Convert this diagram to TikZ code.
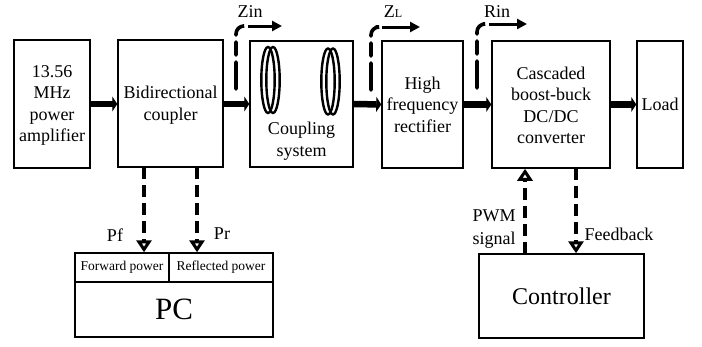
\documentclass[tikz,border=0pt]{standalone}
\usepackage{fontspec}
\setmainfont{Liberation Serif}
\usepackage{tikz}
\usetikzlibrary{arrows.meta}
\tikzset{
blockbox/.style={draw, line width=1.5pt, inner sep=0pt, align=center, font=\fontsize{18}{21.5}\selectfont},
blocktext/.style={inner sep=0pt, align=center, font=\fontsize{18}{21.5}\selectfont},
tagtext/.style={inner sep=0pt, align=center, font=\fontsize{18}{23}\selectfont},
powerline/.style={line width=6.5pt, -{Triangle[width=15pt,length=5pt]}},
senseline/.style={line width=3.5pt, dash pattern=on 12pt off 6pt, -{Triangle[open,width=15pt,length=12pt,line width=3pt]}},
hookline/.style={line width=3.6pt, line cap=round, dash pattern=on 27pt off 7pt on 13pt off 7pt on 30pt off 30pt, rounded corners=8pt},
portline/.style={line width=3pt, -{Triangle[width=10pt,length=10pt]}},
coilring/.style={line width=2.4pt},
}

\begin{document}
\begin{tikzpicture}[x=1pt, y=-1pt]
\useasboundingbox (0,0) rectangle (702,346);

\node[blockbox, minimum width=76pt, minimum height=128pt] (amp) at (52,104) {};
\node[blocktext] (amptext) at (52,105.5) {13.56\\MHz\\power\\amplifier};
\node[blockbox, minimum width=105pt, minimum height=127pt] (coupler) at (170.5,103.5) {};
\node[blocktext] (couplertext) at (170.5,105) {Bidirectional\\coupler};
\node[blockbox, minimum width=103pt, minimum height=126pt] (coupling) at (301.5,104) {};
\node[blocktext] (couplingtext) at (301.5,141) {Coupling\\system};
\node[blockbox, minimum width=81pt, minimum height=127pt] (rectifier) at (422.5,104.5) {High\\frequency\\rectifier};
\node[blockbox, minimum width=118pt, minimum height=127pt] (converter) at (551,104.5) {};
\node[blocktext] (convertertext) at (551,105.5) {Cascaded\\boost-buck\\DC/DC\\converter};
\node[blockbox, minimum width=46pt, minimum height=127pt] (load) at (660,104.5) {Load};
\node[blockbox, minimum width=165pt, minimum height=84pt, font=\fontsize{24}{28}\selectfont] (controller) at (561.5,296) {Controller};

\node[blockbox, minimum width=94pt, minimum height=29pt, font=\fontsize{13.5}{15}\selectfont] (forward) at (122,267.5) {Forward power};
\node[blockbox, minimum width=104pt, minimum height=29pt, font=\fontsize{13.5}{15}\selectfont] (reflected) at (221,267.5) {Reflected power};
\node[blockbox, minimum width=198pt, minimum height=55pt, font=\fontsize{31}{34}\selectfont] (pc) at (174,309.5) {PC};

\draw[coilring] (268,80) ellipse (6.7pt and 33pt);
\draw[coilring] (273,80) ellipse (6.7pt and 33pt);
\draw[coilring] (328,81.5) ellipse (6.7pt and 33pt);
\draw[coilring] (333,81.5) ellipse (6.7pt and 33pt);

\draw[powerline] (amp.east) -- (coupler.west |- amp.east);
\draw[powerline] (coupler.east |- coupling.west) -- (coupling.west);
\draw[powerline] (coupling.east) -- (rectifier.west);
\draw[powerline] (rectifier.east) -- (converter.west);
\draw[powerline] (converter.east) -- (load.west);

\coordinate (pfstart) at (144,167);
\coordinate (prstart) at (197,167);
\draw[senseline] (pfstart) -- (pfstart |- forward.north);
\draw[senseline] (prstart) -- (prstart |- reflected.north);
\coordinate (pwmstart) at (525,254);
\coordinate (fbstart) at (576,168);
\draw[senseline] (pwmstart) -- (pwmstart |- converter.south);
\draw[senseline] (fbstart) -- (fbstart |- controller.north);

\coordinate (zinfoot) at (236,89);
\coordinate (zinhead) at (243,26);
\coordinate (zlfoot) at (371,90);
\coordinate (zlhead) at (376,27);
\coordinate (rinfoot) at (477,88);
\coordinate (rinhead) at (483,24);
\draw[hookline] (zinfoot) |- (zinhead);
\draw[hookline] (zlfoot) |- (zlhead);
\draw[hookline] (rinfoot) |- (rinhead);
\draw[portline] (zinhead) ++(5,0) -- ++(34,0);
\draw[portline] (zlhead) ++(6,0) -- ++(38,0);
\draw[portline] (rinhead) ++(6,0) -- ++(38,0);

\node[tagtext] (zinlabel) at (250,12) {Zin};
\node[tagtext] (zllabel) at (393,12) {Z{\fontsize{12}{12}\selectfont L}};
\node[tagtext] (rinlabel) at (497,12) {Rin};
\node[tagtext] (pflabel) at (115,235) {Pf};
\node[tagtext] (prlabel) at (222,234) {Pr};
\node[tagtext] (pwmlabel) at (494,229.5) {PWM\\signal};
\node[tagtext] (fblabel) at (619,234) {Feedback};
\end{tikzpicture}
\end{document}
